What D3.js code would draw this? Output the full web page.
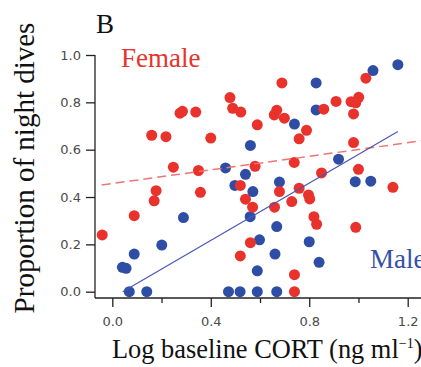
<!DOCTYPE html>
<html>
<head>
<meta charset="utf-8">
<script src="https://cdn.jsdelivr.net/npm/d3@7"></script>
<style>
  html, body { margin: 0; padding: 0; background: #fff; }
  svg { display: block; }
</style>
</head>
<body>
<div id="chart"></div>
<script>
// female dives: [log CORT, proportion of night dives]
const femalePoints = [
  [-0.041, 0.240], [0.089, 0.321], [0.170, 0.384], [0.178, 0.427],
  [0.248, 0.526], [0.350, 0.512], [0.358, 0.420], [0.160, 0.661],
  [0.218, 0.655], [0.275, 0.754], [0.285, 0.762], [0.339, 0.759],
  [0.400, 0.649], [0.478, 0.820], [0.489, 0.775], [0.522, 0.759],
  [0.589, 0.705], [0.580, 0.530], [0.668, 0.767], [0.658, 0.747],
  [0.699, 0.733], [0.689, 0.882], [0.759, 0.646], [0.789, 0.682],
  [0.739, 0.546], [0.859, 0.771], [0.909, 0.804], [0.970, 0.803],
  [1.001, 0.821], [0.989, 0.798], [0.980, 0.751], [1.030, 0.902],
  [0.980, 0.630], [1.000, 0.517], [0.850, 0.502], [1.140, 0.441],
  [0.759, 0.437], [0.729, 0.381], [0.797, 0.409], [0.802, 0.392],
  [0.520, 0.449], [0.541, 0.391], [0.570, 0.357], [0.659, 0.357],
  [0.679, 0.423], [0.819, 0.317], [0.830, 0.285], [0.989, 0.272],
  [0.561, 0.207], [0.520, 0.151], [0.740, 0.072], [0.740, 0.000]
];

const malePoints = [
  [0.041, 0.103], [0.056, 0.099], [0.069, 0.000], [0.140, 0.000],
  [0.089, 0.159], [0.201, 0.197], [0.289, 0.313], [0.460, 0.523],
  [0.541, 0.496], [0.561, 0.618], [0.498, 0.449], [0.571, 0.423],
  [0.679, 0.463], [0.560, 0.317], [0.668, 0.275], [0.598, 0.219],
  [0.661, 0.159], [0.589, 0.088], [0.472, 0.000], [0.519, 0.000],
  [0.589, 0.000], [0.668, 0.000], [0.740, 0.708], [0.828, 0.882],
  [0.828, 0.768], [0.919, 0.560], [0.800, 0.211], [0.840, 0.124],
  [0.987, 0.465], [1.050, 0.467], [1.059, 0.934], [1.160, 0.959]
];

// fitted lines (end points)
const femaleFit = [[-0.043, 0.451], [1.30, 0.644]];
const maleFit = [[0.042, 0.0], [1.160, 0.677]];

const xMajorTicks = [0.0, 0.4, 0.8, 1.2];
const xMinorTicks = [0.2, 0.6, 1.0];
const yTicks = [0.0, 0.2, 0.4, 0.6, 0.8, 1.0];

const width = 421, height = 367;
const axisX = 95, axisY = 298;

const red = '#e8322b', blue = '#2d4ea4';

const svg = d3.select('#chart').append('svg')
  .attr('width', width)
  .attr('height', height);

const x = d3.scaleLinear().domain([0, 1.2]).range([112.3, 407.7]);
const y = d3.scaleLinear().domain([0, 1]).range([291.7, 55]);

// y axis
const yAxis = svg.append('g')
  .attr('transform', 'translate(' + axisX + ',0)')
  .call(d3.axisLeft(y).tickValues(yTicks).tickFormat(d3.format('.1f')).tickSize(9).tickPadding(5));
yAxis.select('.domain').remove();
yAxis.append('line')
  .attr('x1', 0).attr('x2', 0)
  .attr('y1', y(1)).attr('y2', axisY)
  .attr('stroke', '#222').attr('stroke-width', 1.3);

// x axis
const xAxis = svg.append('g')
  .attr('transform', 'translate(0,' + axisY + ')')
  .call(d3.axisBottom(x).tickValues(xMajorTicks).tickFormat(d3.format('.1f')).tickSize(9).tickPadding(10));
xAxis.select('.domain').remove();
const xMinor = svg.append('g')
  .attr('transform', 'translate(0,' + axisY + ')')
  .call(d3.axisBottom(x).tickValues(xMinorTicks).tickFormat('').tickSize(5));
xMinor.select('.domain').remove();
xAxis.append('line')
  .attr('x1', axisX).attr('x2', width)
  .attr('y1', 0).attr('y2', 0)
  .attr('stroke', '#222').attr('stroke-width', 1.3);

svg.selectAll('.tick line').attr('stroke', '#222').attr('stroke-width', 1.3);
svg.selectAll('.tick text')
  .attr('fill', '#4a4a4a')
  .style('font-family', '"DejaVu Sans", Verdana, sans-serif')
  .style('font-size', '13px');

// points
svg.append('g')
  .selectAll('circle')
  .data(malePoints)
  .join('circle')
  .attr('cx', d => x(d[0]))
  .attr('cy', d => y(d[1]))
  .attr('r', 5.5)
  .attr('fill', blue);

svg.append('g')
  .selectAll('circle')
  .data(femalePoints)
  .join('circle')
  .attr('cx', d => x(d[0]))
  .attr('cy', d => y(d[1]))
  .attr('r', 5.5)
  .attr('fill', red);

// regression lines
const line = d3.line().x(d => x(d[0])).y(d => y(d[1]));
svg.append('path')
  .datum(femaleFit)
  .attr('d', line)
  .attr('fill', 'none')
  .attr('stroke', '#f07474')
  .attr('stroke-width', 1.5)
  .attr('stroke-dasharray', '9,5');
svg.append('path')
  .datum(maleFit)
  .attr('d', line)
  .attr('fill', 'none')
  .attr('stroke', '#4a55b8')
  .attr('stroke-width', 1.2);

// labels
const serif = '"Liberation Serif", "Times New Roman", serif';
svg.append('text')
  .attr('x', 96).attr('y', 33)
  .style('font-family', serif).style('font-size', '27px')
  .attr('fill', '#111')
  .text('B');

svg.append('text')
  .attr('x', 121).attr('y', 67)
  .style('font-family', serif).style('font-size', '27px')
  .attr('fill', red)
  .text('Female');

svg.append('text')
  .attr('x', 370).attr('y', 268)
  .style('font-family', serif).style('font-size', '27px')
  .attr('fill', '#3550a8')
  .text('Male');

svg.append('text')
  .attr('transform', 'translate(34,168) rotate(-90)')
  .attr('text-anchor', 'middle')
  .style('font-family', serif).style('font-size', '29px')
  .attr('fill', '#111')
  .text('Proportion of night dives');

const xl = svg.append('text')
  .attr('x', 112).attr('y', 358)
  .style('font-family', serif).style('font-size', '26.4px')
  .attr('fill', '#111');
xl.append('tspan').text('Log baseline CORT (ng ml');
xl.append('tspan').attr('dy', -10).style('font-size', '14px').text('\u22121');
xl.append('tspan').attr('dy', 10).text(')');
</script>
</body>
</html>
